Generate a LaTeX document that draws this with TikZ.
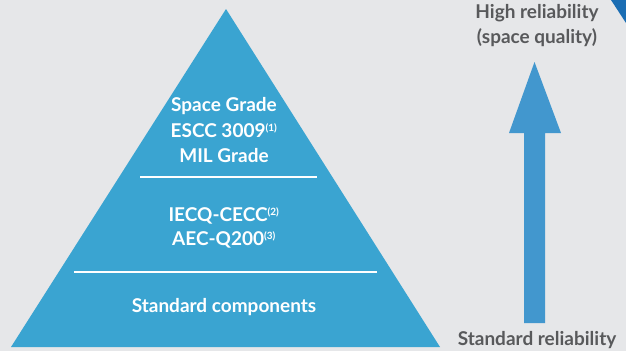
\documentclass[tikz,border=0pt]{standalone}
\usepackage{fontspec}
\setmainfont{Lato}
\usepackage{xcolor}
\usepackage{tikz}

\definecolor{bgray}{HTML}{E6E7E9}
\definecolor{pyrblue}{HTML}{3AA4D1}
\definecolor{arrblue}{HTML}{4297CE}
\definecolor{cornblue}{HTML}{1A6DB3}
\definecolor{txtgray}{HTML}{58595B}

\tikzset{
  level/.style={text=white, font=\fontsize{19}{22}\selectfont\bfseries, align=center, inner sep=0pt},
  side/.style={text=txtgray, font=\fontsize{19}{22}\selectfont\bfseries, align=center, inner sep=0pt},
  sep/.style={white, line width=2.2pt}
}
\newcommand{\fn}[1]{\textsuperscript{\fontsize{10}{10}\selectfont(#1)}}

\begin{document}
\begin{tikzpicture}[x=1pt, y=-1pt]
		% Background
		\fill[bgray] (0,0) rectangle (626,351);
		\useasboundingbox (0,0) rectangle (626,351);

		% Corner mark
		\fill[cornblue] (611,0) -- (626,0) -- (626,23) -- cycle;

		% Pyramid
		\fill[pyrblue] (226,9) -- (440,347) -- (11,347) -- cycle;
		\draw[sep] (140,177) -- (317,177);
		\draw[sep] (74,272) -- (377,272);

		% Levels
		\node[level] (space) at (224,106) {Space Grade};
		\node[level] (escc) at (224,131) {ESCC 3009\fn{1}};
		\node[level] (mil) at (224,156) {MIL Grade};
		\node[level] (iecq) at (224,216) {IECQ-CECC\fn{2}};
		\node[level] (aec) at (224,240) {AEC-Q200\fn{3}};
		\node[level] (std) at (224,307) {Standard components};

		% Arrow
		\fill[arrblue] (524,323) -- (524,133) -- (509,133) -- (534.5,62)
			-- (561,133) -- (545,133) -- (545,323) -- cycle;

		% Labels
		\node[side] (high) at (537,13) {High reliability};
		\node[side] (qual) at (537,38) {(space quality)};
		\node[side] (low) at (537,340) {Standard reliability};
	\end{tikzpicture}
\end{document}
